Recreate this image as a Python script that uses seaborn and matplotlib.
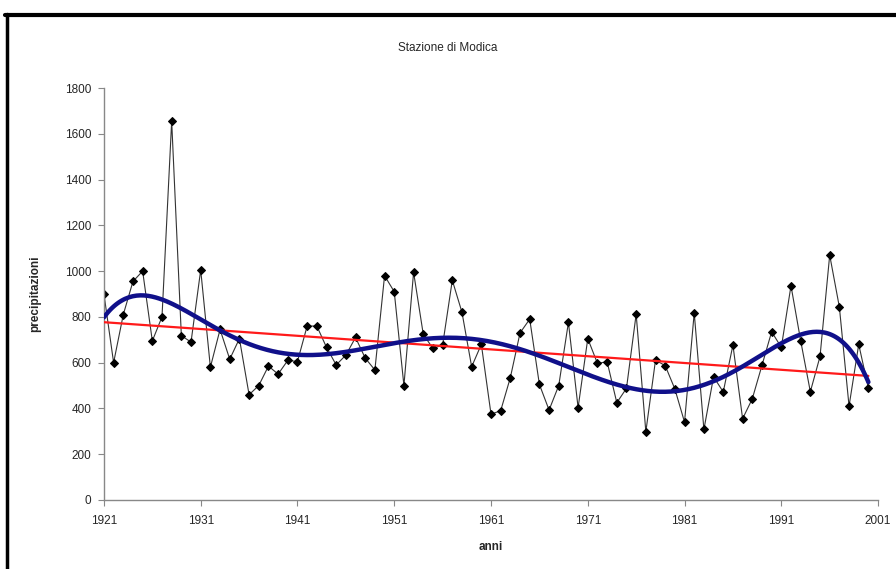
import numpy as np
import pandas as pd
import matplotlib
matplotlib.use("Agg")
import matplotlib.pyplot as plt
from matplotlib.lines import Line2D
import seaborn as sns

# Annual precipitation, Modica station (mm)
years = list(range(1921, 2001))
precip = [
    900, 600, 810, 955, 1000, 695, 800, 1655, 718, 690,   # 1921-1930
    1005, 580, 745, 615, 705, 460, 500, 585, 550, 610,    # 1931-1940
    605, 760, 760, 667, 590, 633, 710, 620, 568, 980,     # 1941-1950
    910, 500, 995, 724, 662, 677, 960, 820, 582, 680,     # 1951-1960
    375, 390, 535, 730, 790, 505, 393, 500, 776, 403,     # 1961-1970
    705, 597, 604, 425, 488, 812, 298, 611, 587, 485,     # 1971-1980
    340, 818, 308, 538, 472, 677, 355, 442, 588, 735,     # 1981-1990
    667, 936, 696, 473, 627, 1070, 843, 410, 680, 488,    # 1991-2000
]
x_ticks = [1921, 1931, 1941, 1951, 1961, 1971, 1981, 1991, 2001]
y_ticks = [0, 200, 400, 600, 800, 1000, 1200, 1400, 1600, 1800]

df = pd.DataFrame({"anni": years, "precipitazioni": precip})

# Trend lines: linear and 6th-order polynomial fits
xs = np.array(years, dtype=float)
ys = np.array(precip, dtype=float)
xc = xs - xs.mean()
lin = np.polyval(np.polyfit(xc, ys, 1), xc)
xf = np.linspace(xc.min(), xc.max(), 400)
poly = np.polyval(np.polyfit(xc, ys, 6), xf)
trend = pd.DataFrame({"anni": xf + xs.mean(), "poly": poly})

sns.set_style("white")
plt.rcParams["font.family"] = ["Liberation Sans", "DejaVu Sans"]

fig = plt.figure(figsize=(8.96, 5.69), dpi=100)
ax = fig.add_axes([0.116, 0.1213, 0.864, 0.724])

sns.lineplot(data=df, x="anni", y="precipitazioni", ax=ax, color="#333333",
             linewidth=0.8, marker="D", markersize=4.5, markerfacecolor="black",
             markeredgecolor="black", zorder=2)
ax.plot(xs, lin, color="#ff1a1a", linewidth=1.6, zorder=3)
sns.lineplot(data=trend, x="anni", y="poly", ax=ax, color="#10108a",
             linewidth=3.2, zorder=4)

ax.set_xlim(1921, 2001)
ax.set_ylim(0, 1800)
ax.set_xticks(x_ticks)
ax.set_yticks(y_ticks)
ax.set_xticklabels([str(t) for t in x_ticks], fontsize=8.5)
ax.set_yticklabels([str(t) for t in y_ticks], fontsize=8.5)
ax.tick_params(axis="x", direction="out", length=4, width=0.8,
               color="#888888", pad=7, bottom=True)
ax.tick_params(axis="y", direction="out", length=4, width=0.8,
               color="#888888", pad=5, left=True)

for side in ("top", "right"):
    ax.spines[side].set_visible(False)
for side in ("left", "bottom"):
    ax.spines[side].set_color("#888888")
    ax.spines[side].set_linewidth(1.0)

ax.set_xlabel("anni", fontsize=8.5, fontweight="bold", labelpad=10)
ax.set_ylabel("precipitazioni", fontsize=8.5, fontweight="bold", labelpad=17)
fig.text(0.5, 0.915, "Stazione di Modica", ha="center", va="center", fontsize=8.5)

# Chart-area frame (top and left edges)
fig.add_artist(Line2D([0.006, 1.0], [0.973, 0.973], transform=fig.transFigure,
                      color="black", linewidth=3.0))
fig.add_artist(Line2D([0.008, 0.008], [0.0, 0.975], transform=fig.transFigure,
                      color="black", linewidth=2.5))

fig.savefig("out.png", dpi=100, facecolor="white")
